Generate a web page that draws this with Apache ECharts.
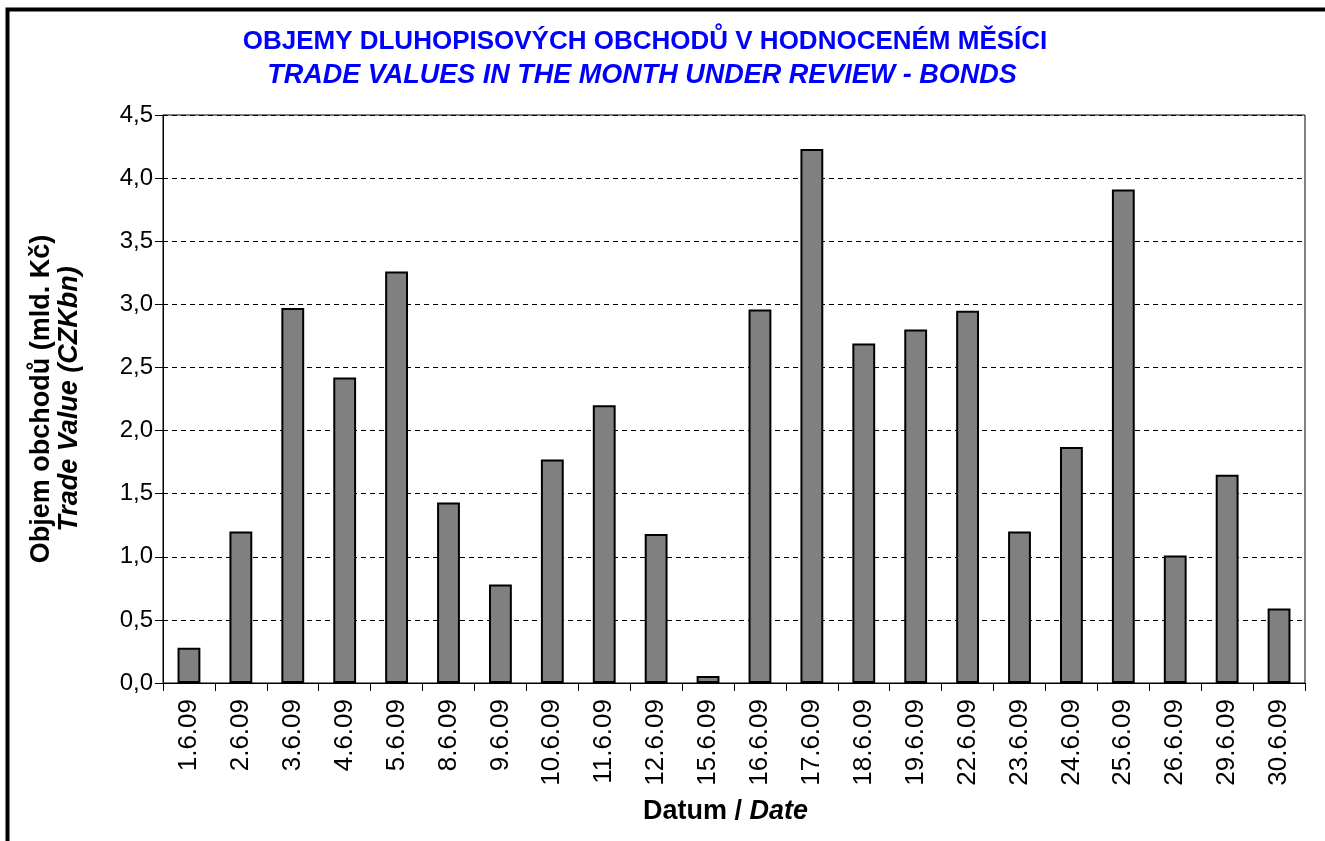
<!DOCTYPE html>
<html lang="cs" style="height: 100%">
<head>
    <meta charset="UTF-8">
    <title>Objemy dluhopisových obchodů</title>
    <script src="https://cdn.jsdelivr.net/npm/echarts@6/dist/echarts.min.js"></script>
</head>
<body style="height: 100%; margin: 0">
<div id="main" style="width: 1325px; height: 841px"></div>
<script>
    var dates = ['1.6.09', '2.6.09', '3.6.09', '4.6.09', '5.6.09', '8.6.09', '9.6.09', '10.6.09',
        '11.6.09', '12.6.09', '15.6.09', '16.6.09', '17.6.09', '18.6.09', '19.6.09', '22.6.09',
        '23.6.09', '24.6.09', '25.6.09', '26.6.09', '29.6.09', '30.6.09'];
    var tradeValues = [0.28, 1.20, 2.97, 2.42, 3.26, 1.43, 0.78, 1.77, 2.20, 1.18, 0.055,
        2.96, 4.23, 2.69, 2.80, 2.95, 1.20, 1.87, 3.91, 1.01, 1.65, 0.59];

    var font = 'Liberation Sans, Arial, sans-serif';

    var myoption = {
        animation: false,
        textStyle: {fontFamily: font},
        title: [
            {
                text: 'OBJEMY DLUHOPISOVÝCH OBCHODŮ V HODNOCENÉM MĚSÍCI',
                left: 640,
                top: 24,
                textAlign: 'center',
                textStyle: {color: '#0000ff', fontSize: 26, fontWeight: 'bold', fontFamily: font}
            },
            {
                text: 'TRADE VALUES IN THE MONTH UNDER REVIEW - BONDS',
                left: 637,
                top: 57,
                textAlign: 'center',
                textStyle: {color: '#0000ff', fontSize: 27, fontWeight: 'bold', fontStyle: 'italic', fontFamily: font}
            }
        ],
        graphic: [
            {
                type: 'rect',
                shape: {x: 7.5, y: 9.5, width: 1500, height: 1000},
                style: {fill: 'none', stroke: '#000', lineWidth: 4},
                silent: true
            }
        ],
        grid: {
            left: 163,
            right: 20,
            top: 115,
            bottom: 158,
            show: true,
            borderColor: '#000',
            borderWidth: 1
        },
        xAxis: {
            type: 'category',
            data: dates,
            name: '{a|Datum / }{b|Date}',
            nameLocation: 'middle',
            nameGap: 115,
            nameTextStyle: {
                padding: [0, 17, 0, 0],
                rich: {
                    a: {fontSize: 27, fontWeight: 'bold', color: '#000', fontFamily: font},
                    b: {fontSize: 27, fontWeight: 'bold', fontStyle: 'italic', color: '#000', fontFamily: font}
                }
            },
            axisLine: {lineStyle: {color: '#000', width: 1}},
            axisTick: {show: true, length: 8, lineStyle: {color: '#000'}},
            axisLabel: {
                rotate: 90,
                margin: 16,
                fontSize: 26,
                color: '#000',
                fontFamily: font,
                interval: 0
            }
        },
        yAxis: {
            type: 'value',
            min: 0,
            max: 4.5,
            interval: 0.5,
            name: '{a|Objem obchodů (mld. Kč)}\n{b|Trade Value (CZKbn)}',
            nameLocation: 'middle',
            nameGap: 79,
            nameTextStyle: {
                rich: {
                    a: {fontSize: 27, fontWeight: 'bold', color: '#000', fontFamily: font, lineHeight: 28},
                    b: {fontSize: 27, fontWeight: 'bold', fontStyle: 'italic', color: '#000', fontFamily: font, lineHeight: 28}
                }
            },
            axisLine: {show: true, lineStyle: {color: '#000', width: 1}},
            axisTick: {show: true, length: 8, lineStyle: {color: '#000'}},
            axisLabel: {
                margin: 10,
                fontSize: 24,
                color: '#000',
                fontFamily: font,
                formatter: function (v) {
                    return v.toFixed(1).replace('.', ',');
                }
            },
            splitLine: {show: true, lineStyle: {color: '#000', type: [5, 4], width: 1}}
        },
        series: [
            {
                name: 'Trade Value',
                type: 'bar',
                data: tradeValues,
                barWidth: '44%',
                itemStyle: {color: '#808080', borderColor: '#000', borderWidth: 2}
            }
        ]
    };
    var myChart = echarts.init(document.getElementById('main'));
    myChart.setOption(myoption);
</script>
</body>
</html>
